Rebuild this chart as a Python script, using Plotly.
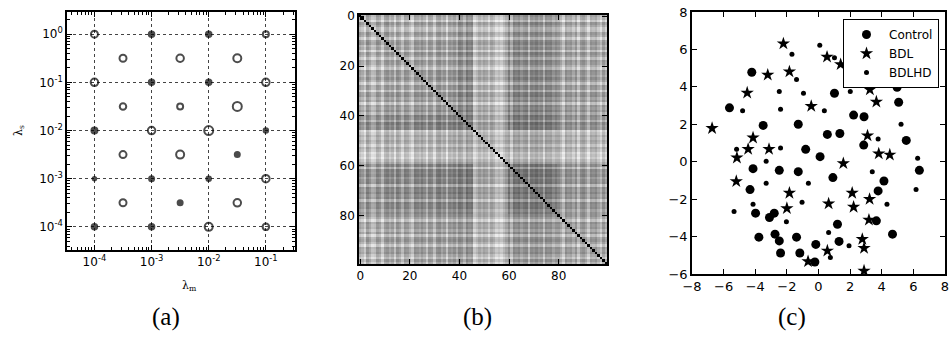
import plotly.graph_objects as go

# ---------------- Panel (a) data: grid search over lambda_m, lambda_s (log10 exponents)
a_lam_m_exp = [-4, -3, -2, -1,  -3.5, -2.5, -1.5,  -4, -3, -2, -1,  -3.5, -2.5, -1.5,
               -4, -3, -2, -1,  -3.5, -2.5, -1.5,  -4, -3, -2, -1,  -3.5, -2.5, -1.5,
               -4, -3, -2, -1]
a_lam_s_exp = [0, 0, 0, 0,  -0.5, -0.5, -0.5,  -1, -1, -1, -1,  -1.5, -1.5, -1.5,
               -2, -2, -2, -2,  -2.5, -2.5, -2.5,  -3, -3, -3, -3,  -3.5, -3.5, -3.5,
               -4, -4, -4, -4]
a_size = [7, 5.5, 5.5, 6,  7, 7.5, 8,  7.5, 5.5, 5.5, 7.5,  6.5, 6, 9,
          6, 7.5, 9, 4.5,  7, 8, 5,  3.5, 5, 4.5, 7.5,  7, 5, 7.5,
          5.5, 5.5, 8, 6.5]
a_open = [1, 0, 0, 1,  1, 1, 1,  1, 0, 0, 1,  1, 1, 1,
          0, 1, 1, 0,  1, 1, 0,  0, 0, 0, 1,  1, 0, 1,
          0, 0, 1, 1]
a_tick_exp = [-4, -3, -2, -1, 0]
a_minor_mult = [2, 3, 4, 5, 6, 7, 8, 9]

# ---------------- Panel (b) data: similarity matrix (100 x 100), block structure + stripes
b_group_bounds = [0, 12, 40, 46, 60, 80, 100]
b_block = [
    [0.38, 0.36, 0.42, 0.33, 0.42, 0.36],
    [0.36, 0.38, 0.44, 0.33, 0.44, 0.38],
    [0.42, 0.44, 0.46, 0.35, 0.47, 0.40],
    [0.33, 0.33, 0.35, 0.34, 0.35, 0.33],
    [0.42, 0.44, 0.47, 0.35, 0.48, 0.40],
    [0.36, 0.38, 0.40, 0.33, 0.40, 0.38],
]
b_stripe = [
    0.00, -0.05, -0.15, 0.05, -0.02, -0.12, -0.10, 0.04, 0.00, -0.14,
    0.03, 0.06, -0.04, 0.02, -0.13, 0.05, 0.00, -0.12, 0.04, 0.02,
    -0.06, -0.14, 0.05, 0.03, -0.02, 0.06, 0.00, -0.13, 0.04, 0.02,
    -0.12, 0.05, 0.07, -0.03, 0.03, -0.14, 0.04, 0.00, 0.06, -0.05,
    0.06, 0.03, -0.08, 0.08, 0.02, 0.05, -0.12, -0.06, 0.02, -0.04,
    0.03, 0.00, -0.10, 0.02, -0.03, -0.12, -0.08, -0.13, -0.05, 0.02,
    0.05, -0.12, 0.06, 0.03, 0.07, -0.02, 0.04, 0.06, -0.13, 0.05,
    0.02, 0.07, 0.00, 0.04, -0.12, 0.06, 0.03, 0.05, -0.04, 0.02,
    0.04, -0.03, -0.14, 0.05, 0.00, 0.03, -0.06, 0.04, -0.13, 0.02,
    0.05, -0.02, -0.14, 0.03, 0.00, 0.04, -0.05, -0.13, 0.02, -0.08,
]
b_ticks = [0, 20, 40, 60, 80]

# ---------------- Panel (c) data: 2-D embedding
ctrl_x = [-5.63, -4.22, -3.5, -1.28, 1.01, 4.97, 5.07, 2.22, 2.88, 0.56, 1.35, 2.86, 5.55,
          -0.81, 0.10, -4.14, -2.48, -1.28, 0.91, 4.14, 6.38, -4.33, 3.77, -3.98, -2.8,
          -3.1, 1.2, 3.66, -3.77, -2.75, -2.48, -1.39, 1.3, 4.68, -0.17, -2.4, -1.18, -0.23]
ctrl_y = [2.88, 4.78, 1.94, 2.0, 3.66, 3.98, 3.18, 2.49, 2.40, 1.46, 1.51, 0.89, 1.14,
          0.66, 0.27, -0.37, -0.46, -0.53, -0.85, -1.03, -0.46, -1.49, -1.56, -2.75, -2.75,
          -2.98, -3.34, -3.16, -4.03, -3.87, -4.23, -4.03, -4.26, -3.87, -4.42, -4.88, -4.88, -5.36]
bdl_x = [-2.22, -1.84, -3.21, -4.51, -0.46, -6.73, 0.54, 1.4, 3.25, 3.66, -4.14, -4.45,
         -3.13, -5.16, -5.2, 3.1, 3.81, 4.51, 1.57, -1.84, -2.0, 0.64, 2.13, 2.22, 3.23,
         3.19, 2.77, 2.88, 0.56, -0.66, 2.88]
bdl_y = [6.31, 4.81, 4.64, 3.68, 2.97, 1.79, 5.6, 5.2, 3.85, 3.2, 1.28, 0.67,
         0.67, 0.21, -1.05, 1.39, 0.43, 0.37, -0.09, -1.67, -2.49, -2.24, -1.67, -2.42, -2.0,
         -3.11, -4.14, -4.62, -4.76, -5.33, -5.83]
bdlhd_x = [-1.68, 0.08, 1.01, -1.39, -2.48, -0.95, -4.8, -2.4, 0.37, 2.01, 5.22, 3.77,
           -2.4, -5.18, -3.31, 3.4, 6.27, -3.31, -0.64, 6.17, -1.04, -4.14, 4.33, -5.34,
           -2.03, 0.64, 1.93, 0.75]
bdlhd_y = [5.74, 6.22, 5.56, 4.39, 3.75, 3.66, 2.72, 2.81, 2.72, 3.75, 2.0, 1.21,
           0.73, 0.66, 0.02, -0.53, 0.18, -1.15, -1.15, -1.49, -2.17, -2.27, -2.27, -2.66,
           -3.21, -3.78, -4.49, -5.12]
c_ticks = [-8, -6, -4, -2, 0, 2, 4, 6, 8]

# ---------------- build
W, H = 952, 353


def px_dom_x(a, b):
    return [a / W, b / W]


def px_dom_y(top, bottom):
    return [1 - bottom / H, 1 - top / H]


fig = go.Figure()

# (a)
a_x = [10 ** e for e in a_lam_m_exp]
a_y = [10 ** e for e in a_lam_s_exp]
a_sym = ["circle-open" if o else "circle" for o in a_open]
fig.add_trace(go.Scatter(
    x=a_x, y=a_y, mode="markers", xaxis="x", yaxis="y", showlegend=False,
    marker=dict(symbol=a_sym, size=a_size, color="black", line=dict(color="black", width=2)),
))

# (b)
n = len(b_stripe)
grp = []
for i in range(n):
    for g in range(len(b_group_bounds) - 1):
        if b_group_bounds[g] <= i < b_group_bounds[g + 1]:
            grp.append(g)
            break
z = []
for i in range(n):
    row = []
    for j in range(n):
        if i == j:
            row.append(1.0)
        else:
            v = b_block[grp[i]][grp[j]] + b_stripe[i] + b_stripe[j]
            row.append(min(max(v, 0.0), 0.9))
    z.append(row)
fig.add_trace(go.Heatmap(
    z=z, x=list(range(n)), y=list(range(n)), xaxis="x2", yaxis="y2",
    colorscale=[[0, "white"], [1, "black"]], zmin=0, zmax=1, showscale=False,
))

# (c)
fig.add_trace(go.Scatter(x=ctrl_x, y=ctrl_y, mode="markers", name="Control",
                         xaxis="x3", yaxis="y3",
                         marker=dict(symbol="circle", size=9, color="black")))
fig.add_trace(go.Scatter(x=bdl_x, y=bdl_y, mode="markers", name="BDL",
                         xaxis="x3", yaxis="y3",
                         marker=dict(symbol="star", size=10, color="black")))
fig.add_trace(go.Scatter(x=bdlhd_x, y=bdlhd_y, mode="markers", name="BDLHD",
                         xaxis="x3", yaxis="y3",
                         marker=dict(symbol="circle", size=5, color="black")))

tickfont = dict(family="DejaVu Sans", size=12, color="black")
common = dict(showline=True, linecolor="black", linewidth=1.5, mirror="allticks",
              ticks="inside", ticklen=5, tickcolor="black", tickwidth=1,
              tickfont=tickfont, zeroline=False, automargin=False)
minor_vals = [m * 10 ** e for e in range(-5, 1) for m in a_minor_mult]
cfont = dict(family="DejaVu Sans", size=13, color="black")


def mtxt(ts):
    return [("\u2212%d" % -t) if t < 0 else str(t) for t in ts]


fig.update_layout(
    width=W, height=H, margin=dict(l=0, r=0, t=0, b=0),
    paper_bgcolor="white", plot_bgcolor="white",
    xaxis=dict(domain=px_dom_x(67, 295), type="log", range=[-4.48, -0.49], anchor="y",
               tickvals=[10 ** e for e in a_tick_exp[:-1]],
               ticktext=["10<sup>%d</sup>" % e for e in a_tick_exp[:-1]],
               showgrid=True, gridcolor="#444444", griddash="dot", gridwidth=1,
               minor=dict(ticks="inside", ticklen=3, tickcolor="black", showgrid=False,
                          tickmode="array", tickvals=minor_vals),
               **common),
    yaxis=dict(domain=px_dom_y(12, 250), type="log", range=[-4.48, 0.46], anchor="x",
               tickvals=[10 ** e for e in a_tick_exp],
               ticktext=["10<sup>%d</sup>" % e for e in a_tick_exp],
               showgrid=True, gridcolor="#444444", griddash="dot", gridwidth=1,
               minor=dict(ticks="inside", ticklen=3, tickcolor="black", showgrid=False,
                          tickmode="array", tickvals=minor_vals),
               **common),
    xaxis2=dict(domain=px_dom_x(359, 607), range=[-0.5, n - 0.5], anchor="y2",
                tickvals=b_ticks, showgrid=False, **common),
    yaxis2=dict(domain=px_dom_y(15, 264), range=[n - 0.5, -0.5], anchor="x2",
                tickvals=b_ticks, showgrid=False, **common),
    xaxis3=dict(domain=px_dom_x(692, 945), range=[-8, 8], anchor="y3",
                tickvals=c_ticks, ticktext=mtxt(c_ticks),
                showgrid=False, **{**common, "tickfont": cfont}),
    yaxis3=dict(domain=px_dom_y(12, 274), range=[-6, 8], anchor="x3",
                tickvals=c_ticks[1:], ticktext=mtxt(c_ticks[1:]),
                showgrid=False, **{**common, "tickfont": cfont}),
    legend=dict(x=843 / W, xanchor="left", y=1 - 19 / H, yanchor="top",
                bordercolor="black", borderwidth=1, bgcolor="white",
                font=dict(family="DejaVu Sans", size=12, color="black"),
                itemsizing="trace", itemwidth=35),
    annotations=[
        dict(text="\u03bb<sub>m</sub>", x=180 / W, y=1 - 295 / H, xref="paper", yref="paper",
             showarrow=False, font=dict(family="DejaVu Serif", size=11, color="black")),
        dict(text="\u03bb<sub>s</sub>", x=10 / W, y=1 - 131 / H, xref="paper", yref="paper",
             showarrow=False, textangle=-90, font=dict(family="DejaVu Serif", size=11, color="black")),
        dict(text="(a)", x=150 / W, y=1 - 333 / H, xref="paper", yref="paper",
             showarrow=False, font=dict(family="Liberation Serif", size=25, color="black")),
        dict(text="(b)", x=477 / W, y=1 - 333 / H, xref="paper", yref="paper",
             showarrow=False, font=dict(family="Liberation Serif", size=25, color="black")),
        dict(text="(c)", x=808 / W, y=1 - 333 / H, xref="paper", yref="paper",
             showarrow=False, font=dict(family="Liberation Serif", size=25, color="black")),
    ],
)

fig.write_html("out.html", config={"displayModeBar": False},
               post_script="document.body.style.margin='0px';")
